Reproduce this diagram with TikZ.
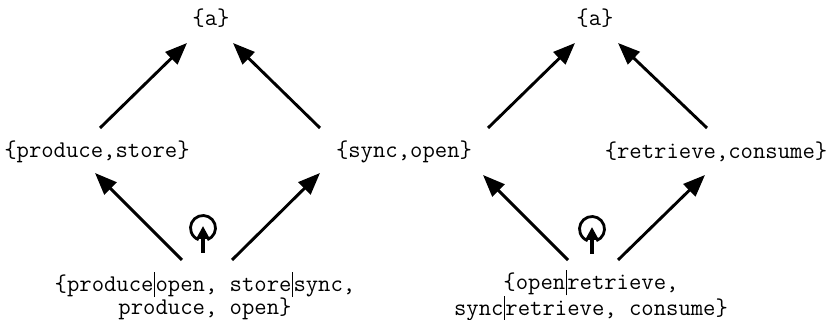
\documentclass[tikz,border=0pt]{standalone}
\usepackage{fontspec}
\usetikzlibrary{arrows.meta}

\newcommand{\choicebar}{\makebox[2pt]{\rule[-0.24em]{0.7pt}{1.05em}}}

\begin{document}
\begin{tikzpicture}[
  x=1pt, y=1pt,
  font=\ttfamily\fontsize{24}{22}\selectfont,
  lbl/.style={inner sep=0pt, align=center},
  arr/.style={draw=black, line width=2.9pt, -{Triangle[length=22pt,width=17pt]}},
  selfarr/.style={draw=black, line width=3.2pt, -{Triangle[length=13pt,width=13pt]}},
  selfring/.style={draw=black, line width=2.8pt}
]
\useasboundingbox (0,0) rectangle (829,320);
% left lattice
\node[lbl] (topL) at (211,302) {\{a\}};
\node[lbl] (ps) at (97,168) {\{produce,store\}};
\node[lbl] (so) at (404,168) {\{sync,open\}};
\node[lbl] (botL) at (205,24) {\{produce\choicebar open, store\choicebar sync,\\produce, open\}};
% right lattice
\node[lbl] (topR) at (595,302) {\{a\}};
\node[lbl] (rc) at (716,168) {\{retrieve,consume\}};
\node[lbl] (botR) at (591,24) {\{open\choicebar retrieve,\\sync\choicebar retrieve, consume\}};

\draw[arr] ([shift={(3,24)}]ps.center) -- ([shift={(-24,-25)}]topL.center);
\draw[arr] ([shift={(-84,24)}]so.center) -- ([shift={(22,-25)}]topL.center);
\draw[arr] ([shift={(-23,36)}]botL.center) -- ([shift={(-2,-21)}]ps.center);
\draw[arr] ([shift={(27,36)}]botL.center) -- ([shift={(-84,-21)}]so.center);

\draw[arr] ([shift={(84,24)}]so.center) -- ([shift={(-20,-25)}]topR.center);
\draw[arr] ([shift={(-9,24)}]rc.center) -- ([shift={(23,-25)}]topR.center);
\draw[arr] ([shift={(-23,36)}]botR.center) -- ([shift={(79,-23)}]so.center);
\draw[arr] ([shift={(27,36)}]botR.center) -- ([shift={(-11,-23)}]rc.center);

% self loops
\coordinate (loopL) at ([shift={(-2,68)}]botL.center);
\coordinate (loopR) at ([shift={(1,67)}]botR.center);
\foreach \c in {loopL,loopR}{
  \draw[selfarr] ([yshift=-25pt]\c) -- ([yshift=2pt]\c);
  \draw[selfring] ([shift={(-70:12.5)}]\c) arc[start angle=-70, end angle=250, radius=12.5];
}
\end{tikzpicture}
\end{document}
